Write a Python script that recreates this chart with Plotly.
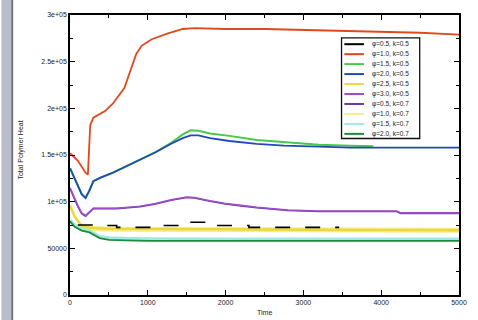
import plotly.graph_objects as go

# ---- series data (time, total polymer heat) ----
names = ["φ=0.5, k=0.5", "φ=1.0, k=0.5", "φ=1.5, k=0.5", "φ=2.0, k=0.5", "φ=2.5, k=0.5",
         "φ=3.0, k=0.5", "φ=0.5, k=0.7", "φ=1.0, k=0.7", "φ=1.5, k=0.7", "φ=2.0, k=0.7"]
colors = ["#000000", "#e0481e", "#46c84a", "#2148b8", "#ecd83a",
          "#a04cc8", "#6a3aa8", "#f4ee8c", "#9fe8e4", "#1e8c3c"]

t_black = [100, 300, 600, 1100, 1400, 1750, 2300, 3460]
v_black = [75000, 74500, 72500, 74500, 78000, 74500, 72500, 72500]

t_red = [0, 100, 200, 230, 260, 300, 450, 550, 700, 780, 850, 920, 1050, 1250, 1450,
         1600, 2000, 2500, 3000, 3500, 4000, 4500, 5000]
v_red = [152000, 144000, 131000, 129000, 182000, 190000, 197000, 205000, 222000, 240000,
         258000, 267000, 274000, 280000, 285000, 286000, 285000, 285000, 284000, 283000,
         282000, 281000, 279000]

t_green = [0, 50, 100, 150, 200, 250, 300, 400, 550, 700, 900, 1100, 1300, 1450, 1550,
           1650, 1800, 2050, 2400, 2750, 3200, 3600, 3900]
v_green = [136000, 127000, 118000, 108000, 104000, 112000, 122000, 126000, 131000, 137000,
           145000, 153000, 163000, 172000, 176500, 176000, 173000, 170500, 166000, 163500,
           161000, 160000, 159500]

t_blue = [0, 50, 100, 150, 200, 250, 300, 400, 550, 700, 900, 1100, 1300, 1450, 1550,
          1650, 1800, 2050, 2400, 2750, 3200, 3600, 4000, 4500, 5000]
v_blue = [136000, 127000, 118000, 108000, 104000, 112000, 122000, 126000, 131000, 137000,
          145000, 153000, 162000, 168000, 171000, 171000, 168000, 165000, 162000, 160000,
          159000, 158000, 158000, 158000, 158000]

t_yellow = [0, 60, 150, 250, 500, 1000, 2000, 3000, 4000, 5000]
v_yellow = [96000, 84000, 74000, 72000, 71000, 71000, 70500, 70000, 69500, 69500]

t_purple = [0, 50, 100, 150, 200, 250, 300, 600, 900, 1100, 1300, 1500, 1600, 1800, 2000,
            2200, 2400, 2800, 3200, 4200, 4250, 5000]
v_purple = [115000, 105000, 96000, 88000, 85000, 89000, 93000, 93000, 95000, 98000,
            102000, 105000, 104500, 101000, 98000, 96000, 94000, 91000, 90000, 90000,
            88000, 88000]

t_indigo = [0, 50, 100, 150, 200, 250, 300, 600, 900, 1100, 1300, 1500, 1600, 1800, 2000,
            2200, 2400, 2800, 3200, 4200, 4250, 5000]
v_indigo = [114000, 104000, 95000, 87000, 84500, 88500, 92500, 92500, 94500, 97500,
            101500, 104500, 104000, 100500, 97500, 95500, 93500, 90500, 89500, 89500,
            87500, 87500]

t_lyellow = [100, 300, 600, 1000, 2000, 3000, 4000, 5000]
v_lyellow = [73000, 71000, 70500, 70500, 70000, 69500, 69500, 69500]

t_cyan = [0, 60, 150, 250, 380, 500, 700, 1000, 2000, 3000, 4000, 5000]
v_cyan = [80000, 74500, 70500, 68500, 62500, 61000, 60500, 60000, 59800, 59800, 59800, 59800]

t_dgreen = [0, 60, 150, 250, 380, 500, 700, 1000, 2000, 3000, 4000, 5000]
v_dgreen = [79000, 73000, 69000, 67000, 61000, 59000, 58500, 58000, 58000, 58000, 58000, 58000]

x_ticks = [0, 1000, 2000, 3000, 4000, 5000]
y_ticks = [0, 50000, 100000, 150000, 200000, 250000, 300000]
y_ticktext = ["0", "50000", "1e+05", "1.5e+05", "2e+05", "2.5e+05", "3e+05"]

fig = go.Figure()

# drawing order: pale/background lines first, sharper ones on top
order = [
    (7, t_lyellow, v_lyellow, 5, "solid", "linear"),
    (4, t_yellow, v_yellow, 2.5, "solid", "linear"),
    (8, t_cyan, v_cyan, 3.5, "solid", "linear"),
    (9, t_dgreen, v_dgreen, 1.8, "solid", "linear"),
    (2, t_green, v_green, 2, "solid", "linear"),
    (3, t_blue, v_blue, 1.8, "solid", "linear"),
    (6, t_indigo, v_indigo, 1.6, "solid", "linear"),
    (5, t_purple, v_purple, 1.6, "solid", "linear"),
    (0, t_black, v_black, 1.6, "longdash", "hv"),
    (1, t_red, v_red, 1.8, "solid", "linear"),
]
for i, tx, vy, w, dash, shape in order:
    fig.add_trace(go.Scatter(
        x=tx, y=vy, mode="lines", name=names[i], showlegend=False,
        line=dict(color=colors[i], width=w, dash=dash, shape=shape)))

FONT = "Liberation Sans"
TXT = "#222"

# legend box drawn with shapes/annotations
L_X0, L_X1, L_Y0, L_Y1 = 0.698, 0.899, 0.559, 0.918
fig.add_shape(type="rect", xref="paper", yref="paper", x0=L_X0, x1=L_X1, y0=L_Y0, y1=L_Y1,
              line=dict(color="#111", width=1.3), fillcolor="white", layer="above")
row_top = (295 - 43.3) / 281
row_step = 10 / 281
for k in range(len(names)):
    yy = row_top - k * row_step
    fig.add_shape(type="line", xref="paper", yref="paper",
                  x0=(350 - 70) / 397, x1=(370 - 70) / 397, y0=yy, y1=yy,
                  line=dict(color=colors[k], width=2), layer="above")
    fig.add_annotation(xref="paper", yref="paper", x=(376 - 70) / 397, y=yy,
                       text=names[k], showarrow=False, xanchor="left", yanchor="middle",
                       font=dict(size=6.5, color=TXT, family=FONT))

# axis titles
fig.add_annotation(xref="paper", yref="paper", x=(268 - 70) / 397, y=(295 - 313) / 281,
                   text="Time", showarrow=False, xanchor="center", yanchor="middle",
                   font=dict(size=7, color=TXT, family=FONT))
fig.add_annotation(xref="paper", yref="paper", x=(20 - 70) / 397, y=(295 - 150) / 281,
                   text="Total Polymer Heat", textangle=-90, showarrow=False,
                   xanchor="center", yanchor="middle",
                   font=dict(size=7, color=TXT, family=FONT))

# grey strip on the left edge
fig.add_shape(type="rect", xref="paper", yref="paper", x0=-70 / 397, x1=-60 / 397,
              y0=-25 / 281, y1=306 / 281, line=dict(width=0), fillcolor="#b9bdc8")
fig.add_shape(type="rect", xref="paper", yref="paper", x0=-60 / 397, x1=-58 / 397,
              y0=-25 / 281, y1=306 / 281, line=dict(width=0), fillcolor="#6d717c")

axis_common = dict(showline=True, linecolor="black", linewidth=1.5, mirror="allticks",
                   ticks="inside", ticklen=5, tickwidth=1.3, tickcolor="black",
                   showgrid=False, zeroline=False,
                   tickfont=dict(size=7, color=TXT, family=FONT))
fig.update_xaxes(range=[0, 5000], tickvals=x_ticks, ticktext=[str(v) for v in x_ticks],
                 minor=dict(ticks="inside", ticklen=3, dtick=500, tickcolor="black",
                            tickwidth=1.2),
                 **axis_common)
fig.update_yaxes(range=[0, 300000], tickvals=y_ticks, ticktext=y_ticktext,
                 minor=dict(ticks="inside", ticklen=3, dtick=25000, tickcolor="black",
                            tickwidth=1.2),
                 **axis_common)

fig.update_layout(width=478, height=320, margin=dict(l=70, r=11, t=14, b=25),
                  paper_bgcolor="white", plot_bgcolor="white", showlegend=False)

fig.write_html("out.html")
